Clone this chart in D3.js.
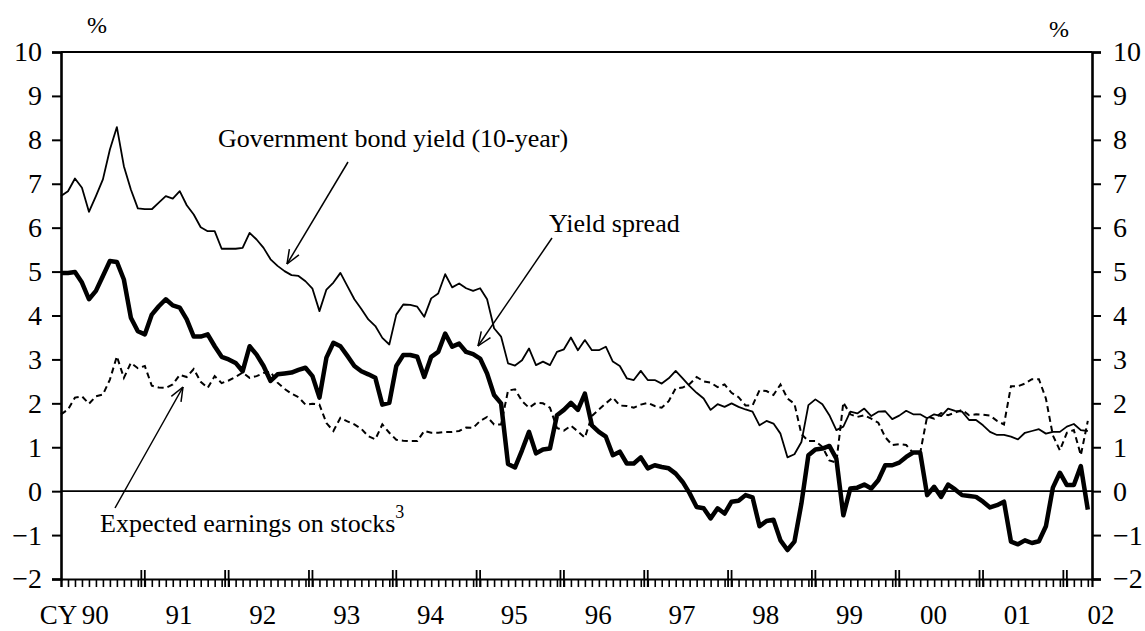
<!DOCTYPE html>
<html><head><meta charset="utf-8">
<script src="https://cdn.jsdelivr.net/npm/d3@7"></script>
<style>body{margin:0;background:#fff}svg{display:block}text{font-family:"Liberation Serif","Times New Roman",serif;fill:#000}</style>
</head><body><svg id="c" width="1145" height="631"></svg>
<script>
// Monthly data, Jan 1990 - Apr 2002
const startYear = 1990;
const govBondYield = [6.72,6.83,7.12,6.91,6.36,6.72,7.1,7.78,8.29,7.4,6.87,6.44,
6.42,6.42,6.57,6.72,6.66,6.83,6.51,6.3,6.01,5.92,5.92,5.52,
5.52,5.52,5.54,5.88,5.73,5.54,5.28,5.13,5.01,4.92,4.9,4.78,
4.61,4.1,4.59,4.75,4.97,4.67,4.37,4.15,3.91,3.76,3.49,3.34,
4.02,4.25,4.24,4.2,3.97,4.39,4.5,4.94,4.64,4.73,4.62,4.56,
4.62,4.37,3.71,3.52,2.91,2.86,2.98,3.25,2.87,2.95,2.87,3.17,
3.23,3.5,3.21,3.44,3.21,3.21,3.29,2.95,2.85,2.57,2.53,2.74,
2.53,2.53,2.45,2.57,2.74,2.57,2.39,2.24,2.11,1.85,1.98,1.92,
2.0,1.92,1.86,1.81,1.5,1.6,1.54,1.31,0.77,0.84,1.12,1.96,
2.09,1.98,1.73,1.39,1.47,1.81,1.77,1.88,1.71,1.81,1.82,1.64,
1.72,1.83,1.75,1.75,1.66,1.75,1.71,1.88,1.83,1.81,1.62,1.62,
1.5,1.35,1.28,1.28,1.24,1.18,1.33,1.37,1.41,1.31,1.35,1.35,
1.47,1.53,1.39,1.37];
const yieldSpread = [4.97,4.97,4.99,4.75,4.37,4.56,4.9,5.24,5.22,4.82,3.95,3.64,
3.57,4.02,4.21,4.37,4.23,4.18,3.91,3.52,3.52,3.57,3.3,3.06,
3.0,2.92,2.73,3.3,3.11,2.85,2.51,2.66,2.68,2.7,2.76,2.81,
2.62,2.13,3.04,3.38,3.3,3.08,2.85,2.73,2.66,2.58,1.97,2.01,
2.85,3.1,3.1,3.06,2.6,3.06,3.17,3.59,3.29,3.36,3.17,3.12,
3.02,2.68,2.19,2.0,0.62,0.54,0.93,1.35,0.86,0.95,0.97,1.73,
1.85,2.01,1.85,2.22,1.5,1.35,1.24,0.82,0.9,0.63,0.63,0.77,
0.52,0.59,0.55,0.52,0.4,0.21,-0.05,-0.36,-0.39,-0.62,-0.39,-0.51,
-0.24,-0.22,-0.09,-0.14,-0.8,-0.68,-0.65,-1.12,-1.34,-1.15,-0.28,0.82,
0.95,0.97,1.03,0.74,-0.55,0.06,0.08,0.15,0.06,0.25,0.59,0.59,
0.65,0.78,0.88,0.88,-0.09,0.1,-0.13,0.15,0.04,-0.09,-0.11,-0.13,
-0.24,-0.37,-0.32,-0.24,-1.15,-1.21,-1.12,-1.18,-1.14,-0.8,0.08,0.42,
0.14,0.14,0.57,-0.42];
const expectedEarnings = [1.75,1.86,2.13,2.16,1.99,2.16,2.2,2.54,3.07,2.58,2.92,2.8,
2.85,2.4,2.36,2.35,2.43,2.65,2.6,2.78,2.49,2.35,2.62,2.46,
2.52,2.6,2.7,2.58,2.62,2.69,2.72,2.47,2.33,2.22,2.14,1.97,
1.99,1.97,1.55,1.37,1.67,1.59,1.52,1.42,1.25,1.18,1.52,1.33,
1.17,1.15,1.14,1.14,1.37,1.33,1.33,1.35,1.35,1.37,1.45,1.44,
1.6,1.69,1.52,1.52,2.29,2.32,2.05,1.9,2.01,2.0,1.9,1.44,
1.38,1.49,1.36,1.22,1.71,1.86,2.0,2.13,1.95,1.94,1.9,1.97,
2.01,1.94,1.9,2.05,2.34,2.36,2.44,2.6,2.5,2.47,2.37,2.43,
2.24,2.14,1.95,1.95,2.3,2.28,2.19,2.43,2.11,1.99,1.3,1.14,
1.14,1.01,0.7,0.65,2.02,1.75,1.69,1.73,1.65,1.56,1.23,1.05,
1.07,1.05,0.87,0.87,1.7,1.65,1.78,1.73,1.79,1.85,1.73,1.75,
1.74,1.72,1.6,1.52,2.39,2.39,2.45,2.55,2.55,2.11,1.27,0.93,
1.33,1.39,0.82,1.6];
const yTicks = [-2,-1,0,1,2,3,4,5,6,7,8,9,10];
const yearLabels = ["90","91","92","93","94","95","96","97","98","99","00","01","02"];

const svg = d3.select("#c");
const x = d3.scaleLinear().domain([0, 147.6]).range([61, 1092]);
const y = d3.scaleLinear().domain([-2, 10]).range([579, 52]);

// frame
svg.append("line").attr("x1",x(0)).attr("x2",x(147.6)).attr("y1",y(10)).attr("y2",y(10)).attr("stroke","#000").attr("stroke-width",2.2);
svg.append("line").attr("x1",x(0)).attr("x2",x(147.6)).attr("y1",y(0)).attr("y2",y(0)).attr("stroke","#000").attr("stroke-width",1.6);

// y axes
const fmt = d3.format("d");
const left = svg.append("g").attr("transform",`translate(${x(0)},0)`)
  .call(d3.axisLeft(y).tickValues(yTicks).tickFormat(fmt).tickSize(9).tickPadding(10));
const right = svg.append("g").attr("transform",`translate(${x(147.6)},0)`)
  .call(d3.axisRight(y).tickValues(yTicks).tickFormat(fmt).tickSize(9).tickPadding(12));
[left,right].forEach(g=>{
  g.select(".domain").attr("stroke","#000").attr("stroke-width",2.6);
  g.selectAll(".tick line").attr("stroke","#000").attr("stroke-width",2);
  g.selectAll(".tick text").style("font-family",'"Liberation Serif",serif').style("font-size","28px").attr("fill","#000");
});

// x axis with monthly ticks
const monthTicks = d3.range(0, 148);
const xa = svg.append("g").attr("transform",`translate(0,${y(-2)})`)
  .call(d3.axisBottom(x).tickValues(monthTicks).tickFormat("").tickSize(8));
xa.select(".domain").attr("stroke","#000").attr("stroke-width",2.2);
xa.selectAll(".tick line").attr("stroke","#000").attr("stroke-width",1.6);
// year boundary ticks (taller, crossing axis)
const yearStarts = d3.range(12, 148, 12);
svg.append("g").selectAll("line").data(yearStarts.flatMap(m=>[m-0.5,m])).join("line")
  .attr("x1",d=>x(d)).attr("x2",d=>x(d)).attr("y1",y(-2)-9).attr("y2",y(-2)+8)
  .attr("stroke","#000").attr("stroke-width",1.8);
// year labels
svg.append("g").selectAll("text").data(yearLabels).join("text")
  .attr("x",(d,i)=>x(i*12+4.9)).attr("y",624).attr("text-anchor","middle")
  .style("font-size","27px").text(d=>d);
svg.append("text").attr("x",x(4.9)-18).attr("y",624).attr("text-anchor","end").style("font-size","27px").text("CY");
// % labels
svg.append("text").attr("x",97).attr("y",33).attr("text-anchor","middle").style("font-size","24px").text("%");
svg.append("text").attr("x",1059).attr("y",37).attr("text-anchor","middle").style("font-size","24px").text("%");

// lines
const line = d3.line().x((d,i)=>x(i)).y(d=>y(d));
svg.append("path").datum(expectedEarnings).attr("d",line).attr("fill","none").attr("stroke","#000").attr("stroke-width",2).attr("stroke-dasharray","6,4");
svg.append("path").datum(govBondYield).attr("d",line).attr("fill","none").attr("stroke","#000").attr("stroke-width",1.8).attr("stroke-linejoin","round");
svg.append("path").datum(yieldSpread).attr("d",line).attr("fill","none").attr("stroke","#000").attr("stroke-width",4.5).attr("stroke-linejoin","round");

// annotations
function arrow(x1,y1,x2,y2){
  svg.append("line").attr("x1",x1).attr("y1",y1).attr("x2",x2).attr("y2",y2).attr("stroke","#000").attr("stroke-width",1.5);
  const a = Math.atan2(y1-y2,x1-x2), L=15, s=0.38;
  [a-s,a+s].forEach(t=>svg.append("line").attr("x1",x2).attr("y1",y2)
    .attr("x2",x2+L*Math.cos(t)).attr("y2",y2+L*Math.sin(t)).attr("stroke","#000").attr("stroke-width",1.5));
}
svg.append("text").attr("x",218).attr("y",147).style("font-size","26px").text("Government bond yield (10-year)");
arrow(348,162,287,264);
svg.append("text").attr("x",549).attr("y",232).style("font-size","26px").text("Yield spread");
arrow(552,238,478,346);
const ee = svg.append("text").attr("x",100).attr("y",532).style("font-size","26px");
ee.append("tspan").text("Expected earnings on stocks");
ee.append("tspan").attr("dy",-14).style("font-size","18px").text("3");
arrow(115,508,183,387);
</script></body></html>
